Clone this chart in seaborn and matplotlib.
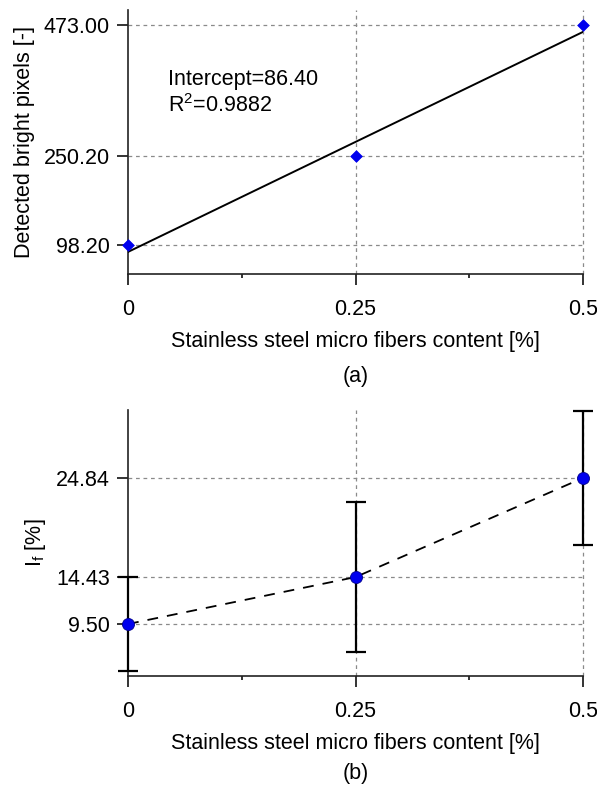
import numpy as np
import pandas as pd
import matplotlib
matplotlib.use("Agg")
import matplotlib.pyplot as plt
import seaborn as sns

# ---- data ----
fiber_content = [0.0, 0.25, 0.5]
bright_pixels = [98.20, 250.20, 473.00]
if_values = [9.50, 14.43, 24.84]
if_err = [4.95, 7.90, 7.00]
x_ticks = [0, 0.25, 0.5]
x_ticklabels = ["0", "0.25", "0.5"]
top_yticks = [98.20, 250.20, 473.00]
top_yticklabels = ["98.20", "250.20", "473.00"]
bot_yticks = [9.50, 14.43, 24.84]
bot_yticklabels = ["9.50", "14.43", "24.84"]

sns.set_theme(style="ticks")
plt.rcParams['font.family'] = ['Liberation Sans', 'DejaVu Sans']
plt.rcParams['mathtext.fontset'] = 'custom'
plt.rcParams['mathtext.rm'] = 'Liberation Sans'
plt.rcParams['mathtext.it'] = 'Liberation Sans'
for k in ['text.color', 'axes.labelcolor', 'xtick.color', 'ytick.color']:
    plt.rcParams[k] = 'black'
FS = 15.5

fig = plt.figure(figsize=(5.97, 7.87), dpi=100)
ax1 = fig.add_axes([128/597, 1-274/787, (583-128)/597, (274-10)/787])
ax2 = fig.add_axes([128/597, 1-676/787, (583-128)/597, (676-410)/787])

df1 = pd.DataFrame({"x": fiber_content, "y": bright_pixels})
df2 = pd.DataFrame({"x": fiber_content, "y": if_values, "err": if_err})

# fit
slope, intercept = np.polyfit(df1["x"], df1["y"], 1)
pred = intercept + slope * df1["x"]
r2 = 1 - ((df1["y"] - pred) ** 2).sum() / ((df1["y"] - df1["y"].mean()) ** 2).sum()

def style_axes(ax, yticks, yticklabels, ylim):
    ax.set_xlim(0, 0.5)
    ax.set_ylim(*ylim)
    ax.set_xticks(x_ticks)
    ax.set_xticklabels(x_ticklabels, fontsize=FS)
    ax.set_xticks([0.125, 0.375], minor=True)
    ax.set_yticks(yticks)
    ax.set_yticklabels(yticklabels, fontsize=FS)
    for t in yticks:
        ax.axhline(t, color="#8a8a8a", lw=0.9, ls=(0, (3, 3)), zorder=0)
    for t in x_ticks[1:]:
        ax.axvline(t, color="#8a8a8a", lw=0.9, ls=(0, (3, 3)), zorder=0, clip_on=False)
    sns.despine(ax=ax)
    for s in ["left", "bottom"]:
        ax.spines[s].set_linewidth(1.2)
        ax.spines[s].set_color("#222222")
    ax.tick_params(axis="both", which="major", length=8, width=1.2, color="#111111", pad=5)
    ax.tick_params(axis="x", which="major", pad=10)
    ax.tick_params(axis="x", which="minor", length=3, width=1.2, color="#111111")
    ax.set_xlabel("Stainless steel micro fibers content [%]", fontsize=FS, labelpad=8)

# ---- top panel ----
sns.regplot(data=df1, x="x", y="y", ax=ax1, scatter=False, ci=None, truncate=True,
            line_kws=dict(color="black", lw=1.4, zorder=3))
sns.scatterplot(data=df1, x="x", y="y", ax=ax1, marker="D", s=36, color="#0000ee",
                edgecolor="#0000ee", zorder=5, clip_on=False)
style_axes(ax1, top_yticks, top_yticklabels, (48.8, 498.5))
ax1.set_ylabel("Detected bright pixels [-]", fontsize=FS, labelpad=6)
ax1.text(0.0445, 380, f"Intercept={intercept:.2f}", fontsize=FS, va="center")
ax1.text(0.0445, 336, f"R$^2$={r2:.4f}", fontsize=FS, va="center")
ax1.text(0.5, -0.39, "(a)", transform=ax1.transAxes, fontsize=FS, ha="center", va="center")

# ---- bottom panel ----
sns.lineplot(data=df2, x="x", y="y", ax=ax2, color="black", lw=1.3,
             dashes=False, zorder=3)
ax2.lines[-1].set_linestyle((0, (6, 5)))
ax2.errorbar(df2["x"], df2["y"], yerr=df2["err"], fmt="none", ecolor="black",
             elinewidth=1.6, capsize=7.5, capthick=1.6, zorder=4, clip_on=False)
sns.scatterplot(data=df2, x="x", y="y", ax=ax2, marker="o", s=75, color="#0000ee",
                edgecolor="#00008b", linewidth=0.6, zorder=5, clip_on=False)
style_axes(ax2, bot_yticks, bot_yticklabels, (4.04, 31.98))
ax2.set_ylabel("I$_{\\mathregular{f}}$ [%]", fontsize=FS, labelpad=6)
ax2.text(0.5, -0.365, "(b)", transform=ax2.transAxes, fontsize=FS, ha="center", va="center")

fig.savefig("out.png", dpi=100)
